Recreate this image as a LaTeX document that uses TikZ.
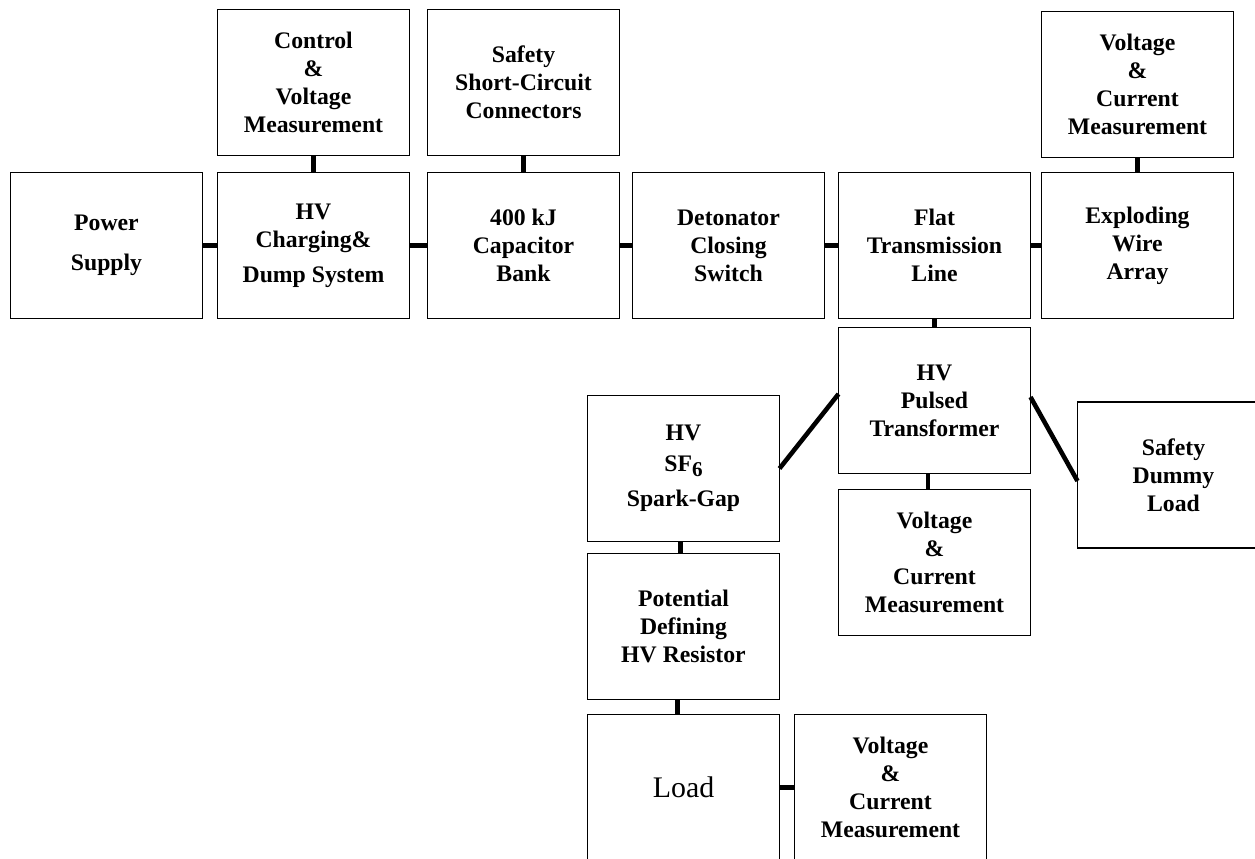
\documentclass[tikz,border=0pt]{standalone}
\usepackage{fontspec}
\setmainfont{Liberation Serif}
\usetikzlibrary{positioning}
\tikzset{
    node distance=0.3cm, % gap between neighbouring blocks
    block/.style={draw, line width=0.9pt, minimum width=3.84cm, minimum height=2.92cm,
        outer sep=0pt, align=center, inner sep=2pt,
        font=\bfseries\fontsize{13.5}{15.9}\selectfont}, % every box
    loadbox/.style={block, font=\fontsize{17}{20}\selectfont}, % the load has a plain, larger label
}
\tikzstyle{link} = [line width=2.6pt]

\begin{document}
\begin{tikzpicture}
    \useasboundingbox (0,0) rectangle (25.1,-17.16);

    % main chain
    \node[block] (power) at (2.13,-4.91) {Power\\[7pt]Supply};
    \node[block, right=0.3cm of power] (hvcharge) {HV\\Charging\&\\[4pt]Dump System};
    \node[block, right=0.36cm of hvcharge] (capbank) {400 kJ\\Capacitor\\Bank};
    \node[block, right=0.26cm of capbank] (detonator) {Detonator\\Closing\\Switch};
    \node[block, right=0.28cm of detonator] (flatline) {Flat\\Transmission\\Line};
    \node[block, right=0.22cm of flatline] (wirearray) {Exploding\\Wire\\Array};

    % upper row
    \node[block, above=0.34cm of hvcharge] (ctrlmeas) {Control\\\&\\Voltage\\Measurement};
    \node[block, above=0.34cm of capbank] (shortcirc) {Safety\\Short-Circuit\\Connectors};
    \node[block, above=0.3cm of wirearray] (vcmtop) {Voltage\\\&\\Current\\Measurement};

    % transformer branch
    \node[block, below=0.18cm of flatline] (transformer) {HV\\Pulsed\\Transformer};
    \node[block, below=0.32cm of transformer] (vcmmid) {Voltage\\\&\\Current\\Measurement};
    \node[block, left=1.18cm of transformer, yshift=-1.36cm] (sparkgap)
        {HV\\[2pt]SF\raisebox{-0.45ex}{\fontsize{12}{12}\selectfont 6}\\[4pt]Spark-Gap};
    \node[block, right=0.94cm of transformer, yshift=-1.49cm] (dummy) {Safety\\Dummy\\Load};
    \node[block, below=0.24cm of sparkgap] (resistor) {Potential\\Defining\\HV Resistor};
    \node[loadbox, below=0.3cm of resistor] (load) {Load};
    \node[block, right=0.3cm of load] (vcmlow) {Voltage\\\&\\Current\\Measurement};

    \path[link]
        (power) edge (hvcharge)
        (hvcharge) edge (capbank)
        (capbank) edge (detonator)
        (detonator) edge (flatline)
        (flatline) edge (wirearray)
        (ctrlmeas) edge (hvcharge)
        (shortcirc) edge (capbank)
        (vcmtop) edge (wirearray)
        (flatline) edge (transformer)
        ([xshift=-0.13cm]transformer.south) edge ([xshift=-0.13cm]vcmmid.north)
        (sparkgap.east) edge ([yshift=0.13cm]transformer.west)
        ([yshift=0.07cm]transformer.east) edge ([yshift=-0.12cm]dummy.west)
        ([xshift=-0.06cm]sparkgap.south) edge ([xshift=-0.06cm]resistor.north)
        ([xshift=-0.12cm]resistor.south) edge ([xshift=-0.12cm]load.north)
        (load) edge (vcmlow);
\end{tikzpicture}
\end{document}
